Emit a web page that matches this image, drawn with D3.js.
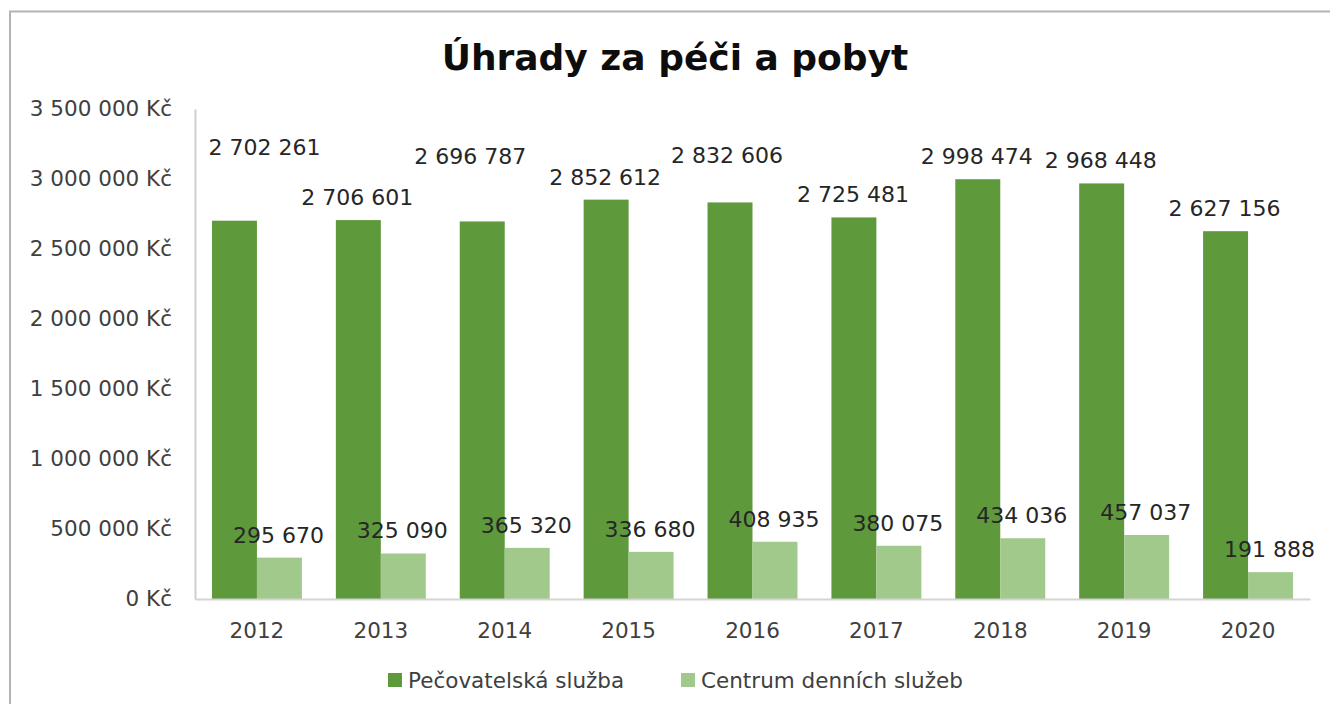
<!DOCTYPE html>
<html>
<head>
<meta charset="utf-8">
<script src="https://cdn.jsdelivr.net/npm/d3@7"></script>
<style>
  html, body { margin: 0; padding: 0; background: #ffffff; }
  svg { display: block; }
  text { font-family: "DejaVu Sans", sans-serif; }
</style>
</head>
<body>
<svg id="chart" width="1330" height="706"></svg>
<script>
// ---- Data ----
const title = "Úhrady za péči a pobyt";
const years = ["2012", "2013", "2014", "2015", "2016", "2017", "2018", "2019", "2020"];
const seriesNames = ["Pečovatelská služba", "Centrum denních služeb"];
const pecovatelska = [2702261, 2706601, 2696787, 2852612, 2832606, 2725481, 2998474, 2968448, 2627156];
const centrum = [295670, 325090, 365320, 336680, 408935, 380075, 434036, 457037, 191888];
const yTicks = [0, 500000, 1000000, 1500000, 2000000, 2500000, 3000000, 3500000];

// Manually moved data labels (pixel nudges, as in the original chart)
const darkLabelNudge = [[31, -51], [0, 0], [-11, -42], [0, 0], [-2, -24], [0, 0], [0, 0], [0, 0], [0, 0]];

// ---- Styles ----
const colors = ["#5E993C", "#A1C98B"];
const textColor = "#404040";

const svg = d3.select("#chart");
const W = 1330, H = 706;
const plot = { left: 195, right: 1310, top: 109, bottom: 599 };

// Frame (only top and left border visible in the crop)
svg.append("path")
  .attr("d", `M10,704 V11.5 H${W}`)
  .attr("fill", "none")
  .attr("stroke", "#b4b4b4").attr("stroke-width", 2);

// Title
svg.append("text")
  .attr("x", 675).attr("y", 70)
  .attr("text-anchor", "middle")
  .attr("font-size", 36).attr("font-weight", "bold")
  .attr("fill", "#0d0d0d")
  .text(title);

// Scales
const y = d3.scaleLinear().domain([0, 3500000]).range([plot.bottom, plot.top]);
const x0 = d3.scaleBand().domain(years).range([plot.left, plot.right])
  .paddingInner(0.274).paddingOuter(0.137);
const x1 = d3.scaleBand().domain([0, 1]).range([0, x0.bandwidth()]);

const loc = d3.formatLocale({ decimal: ",", thousands: " ", grouping: [3], currency: ["", " Kč"] });
const fmt = loc.format(",d");

// Y axis
const yAxis = d3.axisLeft(y).tickValues(yTicks).tickSize(0).tickPadding(23)
  .tickFormat(d => fmt(d) + " Kč");
const gy = svg.append("g").attr("transform", `translate(${plot.left},0)`).call(yAxis);
gy.select(".domain").attr("stroke", "#cfcfcf").attr("stroke-width", 2);
gy.selectAll("text").attr("font-size", 21.5).attr("fill", textColor)
  .attr("font-family", "DejaVu Sans, sans-serif");

// X axis
const xAxis = d3.axisBottom(x0).tickSize(0).tickPadding(24);
const gx = svg.append("g").attr("transform", `translate(0,${plot.bottom})`).call(xAxis);
gx.select(".domain").attr("stroke", "#d4d4d4").attr("stroke-width", 2);
gx.selectAll("text").attr("font-size", 21.5).attr("fill", textColor)
  .attr("font-family", "DejaVu Sans, sans-serif");

// Bars
const series = [pecovatelska, centrum];
series.forEach((vals, s) => {
  svg.append("g").selectAll("rect")
    .data(vals)
    .join("rect")
    .attr("x", (d, i) => x0(years[i]) + x1(s))
    .attr("y", d => y(d))
    .attr("width", x1.bandwidth())
    .attr("height", d => y(0) - y(d))
    .attr("fill", colors[s]);
});
// keep the baseline on top of the bars
gx.raise();

// Data labels
series.forEach((vals, s) => {
  svg.append("g").selectAll("text")
    .data(vals)
    .join("text")
    .attr("x", (d, i) => x0(years[i]) + x1(s) + x1.bandwidth() / 2 - 1 + (s === 0 ? darkLabelNudge[i][0] : 0))
    .attr("y", (d, i) => y(d) - 23 + (s === 0 ? darkLabelNudge[i][1] : 0))
    .attr("dy", "0.36em")
    .attr("text-anchor", "middle")
    .attr("font-size", 22)
    .attr("fill", "#262626")
    .text(d => fmt(d));
});

// Legend
const legendItems = [{ x: 388, name: seriesNames[0], c: colors[0] }, { x: 681, name: seriesNames[1], c: colors[1] }];
const lg = svg.append("g");
legendItems.forEach(it => {
  lg.append("rect").attr("x", it.x).attr("y", 673).attr("width", 14).attr("height", 14).attr("fill", it.c);
  lg.append("text").attr("x", it.x + 20).attr("y", 680).attr("dy", "0.36em")
    .attr("font-size", 21.5).attr("fill", textColor).text(it.name);
});
</script>
</body>
</html>
